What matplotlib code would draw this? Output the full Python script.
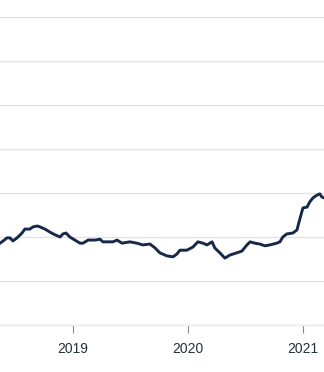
import matplotlib
matplotlib.use("Agg")
import matplotlib.pyplot as plt
import pandas as pd

# Traced series (dates and values, one gridline = 1 unit)
dates = [
    "2018-05-14", "2018-05-24", "2018-06-05", "2018-06-15", "2018-06-24",
    "2018-07-07", "2018-07-23", "2018-08-01", "2018-08-17", "2018-08-27",
    "2018-09-09", "2018-09-18", "2018-10-04", "2018-10-20", "2018-11-05",
    "2018-11-21", "2018-11-30", "2018-12-10", "2018-12-22", "2019-01-07",
    "2019-01-23", "2019-02-02", "2019-02-18", "2019-03-12", "2019-03-28",
    "2019-04-06", "2019-04-19", "2019-05-08", "2019-05-21", "2019-06-06",
    "2019-07-01", "2019-07-23", "2019-08-11", "2019-09-03", "2019-09-19",
    "2019-10-04", "2019-10-27", "2019-11-15", "2019-11-27", "2019-12-07",
    "2019-12-29", "2020-01-17", "2020-02-02", "2020-02-18", "2020-03-02",
    "2020-03-18", "2020-03-27", "2020-04-12", "2020-04-28", "2020-05-14",
    "2020-06-05", "2020-06-21", "2020-07-07", "2020-07-17", "2020-08-01",
    "2020-08-17", "2020-09-02", "2020-09-18", "2020-10-10", "2020-10-20",
    "2020-10-29", "2020-11-11", "2020-11-30", "2020-12-13", "2020-12-23",
    "2021-01-01", "2021-01-14", "2021-01-23", "2021-02-02", "2021-02-14",
    "2021-02-24", "2021-03-02", "2021-03-09",
]
values = [
    1.86, 1.91, 1.98, 1.98, 1.91,
    1.98, 2.09, 2.18, 2.18, 2.23,
    2.25, 2.23, 2.18, 2.11, 2.05,
    2.00, 2.07, 2.09, 2.00, 1.93,
    1.86, 1.86, 1.93, 1.93, 1.95,
    1.89, 1.89, 1.89, 1.93, 1.86,
    1.89, 1.86, 1.82, 1.84, 1.75,
    1.64, 1.57, 1.55, 1.61, 1.70,
    1.70, 1.77, 1.89, 1.86, 1.82,
    1.89, 1.75, 1.64, 1.52, 1.59,
    1.64, 1.68, 1.82, 1.89, 1.86,
    1.84, 1.80, 1.82, 1.86, 1.89,
    2.00, 2.07, 2.09, 2.16, 2.43,
    2.66, 2.68, 2.80, 2.89, 2.95,
    2.98, 2.91, 2.89,
]
year_ticks = ["2019-01-01", "2020-01-01", "2021-01-01"]
year_labels = ["2019", "2020", "2021"]

x = pd.to_datetime(dates)

fig = plt.figure(figsize=(3.24, 3.72), dpi=100)
ax = fig.add_axes([0, 47 / 372, 1, 325 / 372])

ax.plot(x, values, color="#17294a", linewidth=2.1, solid_joinstyle="round")

ax.set_xlim(pd.Timestamp("2018-05-14"), pd.Timestamp("2021-03-09"))
ax.set_ylim(0, 325 / 44)
ax.set_yticks(range(8))
ax.yaxis.grid(True, color="#e3e3e3", linewidth=1)
ax.tick_params(axis="y", left=False, labelleft=False)

ax.set_xticks(pd.to_datetime(year_ticks))
ax.set_xticklabels(year_labels, family="Liberation Sans")
ax.tick_params(axis="x", direction="out", length=6, width=0.8, color="#8a8a8a",
               pad=6, labelsize=10, labelcolor="#28303d")

for side in ["top", "left", "right"]:
    ax.spines[side].set_visible(False)
ax.spines["bottom"].set_color("#ececec")
ax.spines["bottom"].set_linewidth(1)
ax.set_axisbelow(True)

fig.savefig("out.png", dpi=100)
